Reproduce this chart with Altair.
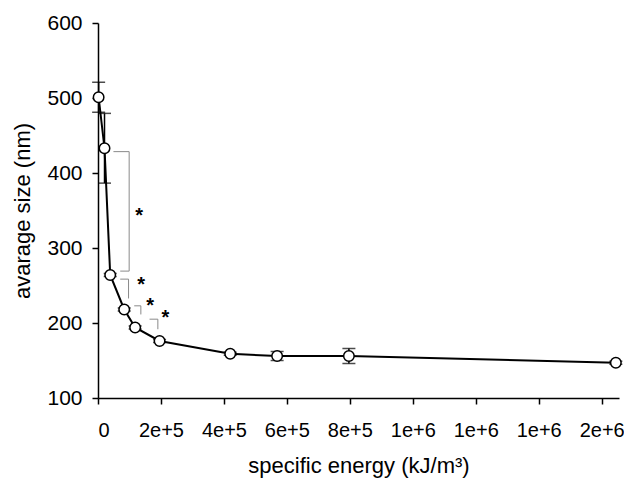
import altair as alt
import pandas as pd

# ---- data ----
energy = [2000, 20700, 38800, 83300, 118000, 195600, 420000, 569000, 797000, 1645000]
avg_size = [501, 433, 264, 218, 194, 176, 159, 156, 156, 147]
err = [20, 46.5, 2, 2, 2, 2, 2, 6, 10, 2]

x_ticks = [0, 200000, 400000, 600000, 800000, 1000000, 1200000, 1400000, 1600000]
y_ticks = [100, 200, 300, 400, 500, 600]

# significance brackets (data units): segments x, x2, y, y2
br_x = [49000, 99000, 70600, 70600, 97000, 115100, 136100, 163700, 190100]
br_x2 = [99000, 99000, 99000, 97000, 97000, 136100, 136100, 190100, 190100]
br_y = [428.5, 428.5, 269.2, 258.5, 258.5, 222.9, 222.9, 205.1, 205.1]
br_y2 = [428.5, 269.2, 269.2, 258.5, 232.7, 222.9, 211.4, 205.1, 191.7]

star_x = [131000, 137400, 166000, 214000]
star_y = [349.7, 258.0, 229.0, 212.7]

df = pd.DataFrame({
    "energy": energy,
    "size": avg_size,
    "lo": [s - e for s, e in zip(avg_size, err)],
    "hi": [s + e for s, e in zip(avg_size, err)],
})
br = pd.DataFrame({"x": br_x, "x2": br_x2, "y": br_y, "y2": br_y2})
stars = pd.DataFrame({"x": star_x, "y": star_y, "t": ["*"] * len(star_x)})

FONT = "Liberation Sans"

xscale = alt.Scale(domain=[0, 1655000], nice=False, zero=False)
yscale = alt.Scale(domain=[100, 600], nice=False, zero=False)

xax = alt.Axis(
    values=x_ticks,
    labelExpr="datum.value == 0 ? '0' : format(datum.value, '.0e')",
    title="specific energy (kJ/m³)",
    grid=False,
    tickSize=6,
    labelPadding=16,
    labelFontSize=20,
    titlePadding=15,
)
yax = alt.Axis(
    values=y_ticks,
    title="avarage size (nm)",
    grid=False,
    tickSize=6,
    labelPadding=10,
    titlePadding=12,
)

X = alt.X("energy:Q", scale=xscale, axis=xax)
Y = alt.Y("size:Q", scale=yscale, axis=yax)

brackets = alt.Chart(br).mark_rule(color="#8a8a8a", strokeWidth=1).encode(
    x=alt.X("x:Q", scale=xscale),
    x2="x2:Q",
    y=alt.Y("y:Q", scale=yscale),
    y2="y2:Q",
)

bars = alt.Chart(df).mark_rule(color="black", strokeWidth=1.5).encode(
    x=X, y=alt.Y("lo:Q", scale=yscale), y2="hi:Q"
)
cap_lo = alt.Chart(df).mark_tick(color="black", orient="horizontal", size=13, thickness=1.5).encode(
    x=alt.X("energy:Q", scale=xscale), y=alt.Y("lo:Q", scale=yscale)
)
cap_hi = alt.Chart(df).mark_tick(color="black", orient="horizontal", size=13, thickness=1.5).encode(
    x=alt.X("energy:Q", scale=xscale), y=alt.Y("hi:Q", scale=yscale)
)

line = alt.Chart(df).mark_line(color="black", strokeWidth=2).encode(x=X, y=Y)
pts = alt.Chart(df).mark_point(
    shape="circle", filled=True, fill="white", stroke="black", strokeWidth=1.5, size=110, opacity=1
).encode(x=X, y=Y)

star_txt = alt.Chart(stars).mark_text(
    font=FONT, fontSize=20, fontWeight="bold", color="black", baseline="alphabetic", dy=11
).encode(
    x=alt.X("x:Q", scale=xscale), y=alt.Y("y:Q", scale=yscale), text="t:N"
)

chart = alt.layer(brackets, bars, cap_lo, cap_hi, line, pts, star_txt).properties(
    width=521,
    height=375,
    autosize=alt.AutoSizeParams(type="none"),
    padding={"left": 90, "top": 15, "right": 5, "bottom": 83},
).configure_view(stroke=None).configure_axis(
    domainColor="black",
    domainWidth=1.5,
    tickColor="black",
    tickWidth=1.5,
    labelColor="black",
    titleColor="black",
    labelFont=FONT,
    titleFont=FONT,
    labelFontSize=21,
    titleFontSize=22,
    titleFontWeight="normal",
)

chart.save("out.html", embed_options={"renderer": "svg", "actions": False})
